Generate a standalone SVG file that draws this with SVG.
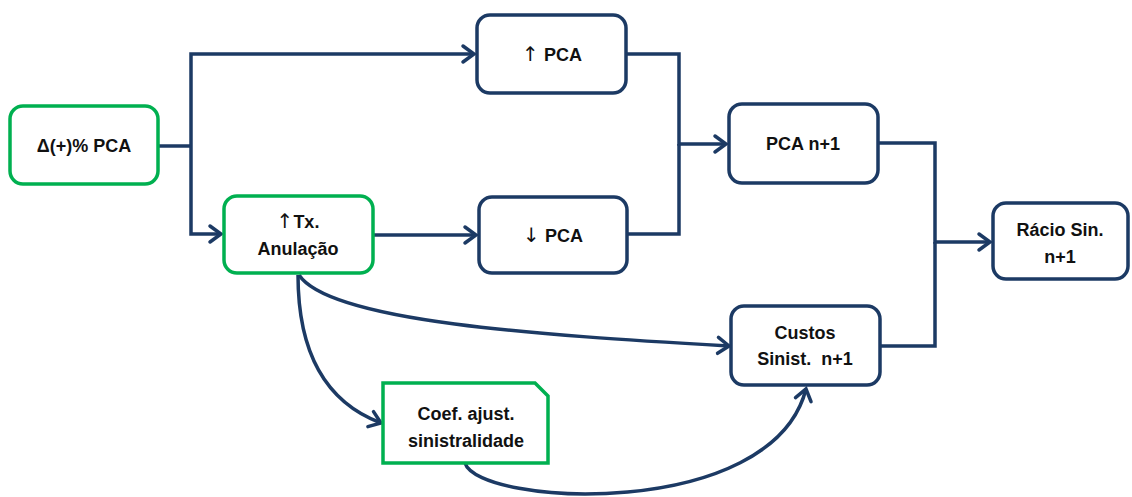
<svg xmlns="http://www.w3.org/2000/svg" width="1132" height="497" viewBox="0 0 1132 497">
  <style>
    .navy { fill: #ffffff; stroke: #1C3A64; stroke-width: 3.5; }
    .green { fill: #ffffff; stroke: #00B050; stroke-width: 3.5; }
    .label { font-family: "Liberation Sans", Arial, sans-serif; font-weight: bold; font-size: 18px; fill: #111111; text-anchor: middle; white-space: pre; }
    .sym { font-family: "DejaVu Sans", sans-serif; font-weight: normal; font-size: 20px; }
    .link { fill: none; stroke: #1C3A64; stroke-width: 3.5; stroke-linejoin: miter; }
    .arrow { marker-end: url(#chevron); }
  </style>
  <defs>
    <marker id="chevron" markerUnits="userSpaceOnUse" markerWidth="20" markerHeight="20" viewBox="-14 -10 16 20" refX="0" refY="0" orient="auto" overflow="visible">
      <path d="M-11,-8 L0,0 L-11,8" fill="none" stroke="#1C3A64" stroke-width="3.5" stroke-linecap="round" stroke-linejoin="miter"/>
    </marker>
  </defs>
  <rect width="1132" height="497" fill="#ffffff"/>

  <!-- connectors -->
  <g id="connectors">
    <path class="link" d="M158,146 H191"/>
    <path class="link arrow" d="M191,146 V54 H474"/>
    <path class="link arrow" d="M191,146 V234 H221"/>
    <path class="link arrow" d="M373,235 H476"/>
    <path class="link" d="M627,234 H679 V144"/>
    <path class="link arrow" d="M626,54 H679 V144 H726"/>
    <path class="link" d="M880,346 H935 V242"/>
    <path class="link arrow" d="M878,143 H935 V242 H990"/>
    <path class="link arrow" d="M299,275 C 330,322 540,335 729,346"/>
    <path class="link arrow" d="M298,275 C 298,352 325,402 381,423"/>
    <path class="link arrow" d="M465,463 C 478,506 772,522 806,389"/>
  </g>

  <g id="node-delta-pca">
    <rect class="green" x="10" y="106" width="148" height="78" rx="13"/>
    <text class="label" x="84" y="152">Δ(+)% PCA</text>
  </g>

  <g id="node-up-pca">
    <rect class="navy" x="477" y="15" width="149" height="78" rx="13"/>
    <text class="label" x="552" y="61"><tspan class="sym">↑</tspan> PCA</text>
  </g>

  <g id="node-tx-anulacao">
    <rect class="green" x="224" y="196" width="149" height="77" rx="13"/>
    <text class="label" x="298" y="228"><tspan class="sym">↑</tspan>Tx.</text>
    <text class="label" x="298" y="255">Anulação</text>
  </g>

  <g id="node-down-pca">
    <rect class="navy" x="479" y="197" width="148" height="76" rx="13"/>
    <text class="label" x="553" y="242"><tspan class="sym">↓</tspan> PCA</text>
  </g>

  <g id="node-pca-n1">
    <rect class="navy" x="729" y="104" width="149" height="79" rx="13"/>
    <text class="label" x="803" y="150">PCA n+1</text>
  </g>

  <g id="node-racio">
    <rect class="navy" x="993" y="203" width="135" height="76" rx="13"/>
    <text class="label" x="1060" y="236">Rácio Sin.</text>
    <text class="label" x="1060" y="263">n+1</text>
  </g>

  <g id="node-custos">
    <rect class="navy" x="731" y="306" width="149" height="79" rx="13"/>
    <text class="label" x="805" y="339">Custos</text>
    <text class="label" x="805" y="365">Sinist.  n+1</text>
  </g>

  <g id="node-coef">
    <path class="green" d="M383,383 H535 L548,396 V463 H383 Z"/>
    <text class="label" x="466" y="420">Coef. ajust.</text>
    <text class="label" x="466" y="447">sinistralidade</text>
  </g>
</svg>
